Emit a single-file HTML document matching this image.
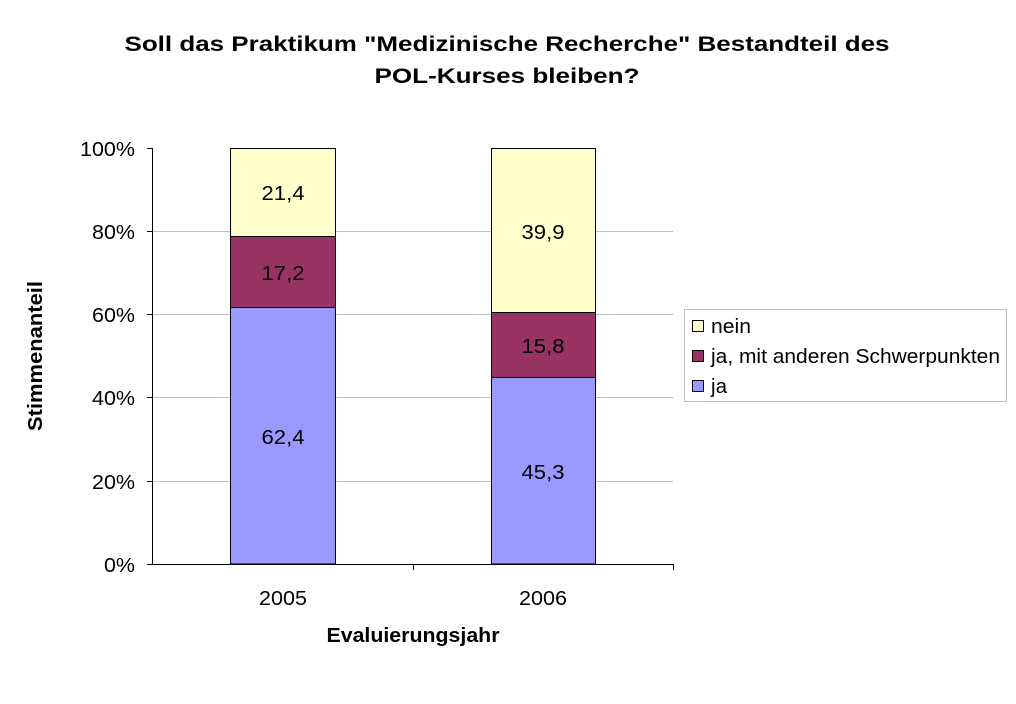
<!DOCTYPE html>
<html><head><meta charset="utf-8"><style>body{margin:0;background:#fff}svg{display:block}text{font-family:"Liberation Sans",Arial,sans-serif}</style></head>
<body>
<svg width="1016" height="704" viewBox="0 0 1016 704">
<text x="507" y="51" font-size="21" font-weight="bold" text-anchor="middle" textLength="765" lengthAdjust="spacingAndGlyphs">Soll das Praktikum "Medizinische Recherche" Bestandteil des</text>
<text x="507" y="83" font-size="21" font-weight="bold" text-anchor="middle" textLength="265" lengthAdjust="spacingAndGlyphs">POL-Kurses bleiben?</text>
<g stroke="#c0c0c0" stroke-width="1">
<line x1="152" y1="231.5" x2="673" y2="231.5"/>
<line x1="152" y1="314.5" x2="673" y2="314.5"/>
<line x1="152" y1="397.5" x2="673" y2="397.5"/>
<line x1="152" y1="481.5" x2="673" y2="481.5"/>
</g>
<g stroke="#000" stroke-width="1">
<rect x="230.5" y="307.5" width="105" height="256.5" fill="#9999ff"/>
<rect x="230.5" y="236.5" width="105" height="71" fill="#993366"/>
<rect x="230.5" y="148.5" width="105" height="88" fill="#ffffcc"/>
<rect x="491.5" y="377.5" width="104" height="186.5" fill="#9999ff"/>
<rect x="491.5" y="312.5" width="104" height="65" fill="#993366"/>
<rect x="491.5" y="148.5" width="104" height="164" fill="#ffffcc"/>
<line x1="152.5" y1="148" x2="152.5" y2="564"/>
<line x1="152" y1="564.5" x2="673" y2="564.5"/>
<line x1="147" y1="148.5" x2="152" y2="148.5"/>
<line x1="147" y1="231.5" x2="152" y2="231.5"/>
<line x1="147" y1="314.5" x2="152" y2="314.5"/>
<line x1="147" y1="397.5" x2="152" y2="397.5"/>
<line x1="147" y1="481.5" x2="152" y2="481.5"/>
<line x1="147" y1="564.5" x2="152" y2="564.5"/>
<line x1="413.5" y1="564" x2="413.5" y2="570"/>
<line x1="673.5" y1="564" x2="673.5" y2="570"/>
</g>
<g font-size="20" text-anchor="end">
<text x="135" y="156" textLength="55" lengthAdjust="spacingAndGlyphs">100%</text>
<text x="135" y="239" textLength="43" lengthAdjust="spacingAndGlyphs">80%</text>
<text x="135" y="322" textLength="43" lengthAdjust="spacingAndGlyphs">60%</text>
<text x="135" y="405" textLength="43" lengthAdjust="spacingAndGlyphs">40%</text>
<text x="135" y="489" textLength="43" lengthAdjust="spacingAndGlyphs">20%</text>
<text x="135" y="572" textLength="31" lengthAdjust="spacingAndGlyphs">0%</text>
</g>
<g font-size="20" text-anchor="middle">
<text x="283" y="200" textLength="43" lengthAdjust="spacingAndGlyphs">21,4</text>
<text x="283" y="280" textLength="43" lengthAdjust="spacingAndGlyphs">17,2</text>
<text x="283" y="444" textLength="43" lengthAdjust="spacingAndGlyphs">62,4</text>
<text x="543" y="239" textLength="43" lengthAdjust="spacingAndGlyphs">39,9</text>
<text x="543" y="353" textLength="43" lengthAdjust="spacingAndGlyphs">15,8</text>
<text x="543" y="479" textLength="43" lengthAdjust="spacingAndGlyphs">45,3</text>
<text x="283" y="605" textLength="48" lengthAdjust="spacingAndGlyphs">2005</text>
<text x="543" y="605" textLength="48" lengthAdjust="spacingAndGlyphs">2006</text>
</g>
<text x="413" y="642" font-size="20" font-weight="bold" text-anchor="middle" textLength="173" lengthAdjust="spacingAndGlyphs">Evaluierungsjahr</text>
<text transform="translate(42,356) rotate(-90)" font-size="20" font-weight="bold" text-anchor="middle" textLength="150" lengthAdjust="spacingAndGlyphs">Stimmenanteil</text>
<rect x="684.5" y="309.5" width="322" height="92" fill="#fff" stroke="#c0c0c0"/>
<g stroke="#000">
<rect x="692.5" y="320.5" width="11" height="11" fill="#ffffcc"/>
<rect x="692.5" y="350.5" width="11" height="11" fill="#993366"/>
<rect x="692.5" y="380.5" width="11" height="11" fill="#9999ff"/>
</g>
<g font-size="20">
<text x="711" y="333" textLength="40" lengthAdjust="spacingAndGlyphs">nein</text>
<text x="711" y="363" textLength="289" lengthAdjust="spacingAndGlyphs">ja, mit anderen Schwerpunkten</text>
<text x="711" y="393" textLength="16" lengthAdjust="spacingAndGlyphs">ja</text>
</g>
</svg>
</body></html>
